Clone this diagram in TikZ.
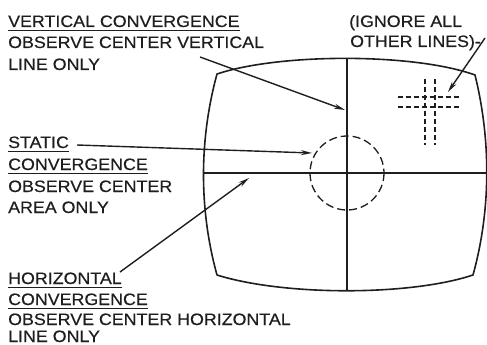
\documentclass[tikz,border=0pt]{standalone}
\usepackage{fontspec}
\setmainfont{Liberation Sans}[FakeStretch=1.08,FakeBold=0.4]
\usetikzlibrary{arrows.meta}
\definecolor{ink}{HTML}{1E1E1E}
\newcommand{\lblfont}{\fontsize{16.5}{20}\selectfont}
\tikzset{
  lbl/.style={font=\lblfont, anchor=base west, inner sep=0pt, text=ink},
  ul/.style={draw=ink, line width=1pt},
  outline/.style={draw=ink, line width=1.6pt, line join=round},
  grid/.style={draw=ink, line width=1.3pt},
  dashcirc/.style={draw=ink, line width=1.3pt, dash pattern=on 8pt off 4pt},
  dashline/.style={draw=ink, line width=1.2pt, dash pattern=on 5pt off 3pt},
  pointer/.style={draw=ink, line width=1.4pt, -{Stealth[length=11pt,width=5pt]}}
}
\begin{document}
\begin{tikzpicture}[x=1pt,y=-1pt]
\useasboundingbox (0,0) rectangle (487,345);
% screen outline
\draw[outline] (217,74) .. controls (280,53) and (414,53) .. (475,75)
  .. controls (491,140) and (491,210) .. (473,275)
  .. controls (410,296) and (284,296) .. (217,275)
  .. controls (199,210) and (199,140) .. cycle;
% center lines
\coordinate (hl) at (203.5,173);
\coordinate (hr) at (486.7,173);
\coordinate (vt) at (347,58.5);
\coordinate (vb) at (347,290.7);
\draw[grid] (hl) -- (hr);
\draw[grid] (vt) -- (vb);
% static circle
\coordinate (cc) at (347,173);
\draw[dashcirc] (cc) circle[radius=37];
% crosshair in upper right
\draw[dashline] (425,79) -- (425,145);
\draw[dashline] (435,79) -- (435,145);
\draw[dashline] (398,97) -- (459,97);
\draw[dashline] (398,107) -- (459,107);
% labels: vertical convergence
\node[lbl] (v1) at (8,27) {VERTICAL CONVERGENCE};
\node[lbl] (v2) at (8,48) {OBSERVE CENTER VERTICAL};
\node[lbl] (v3) at (8,70) {LINE ONLY};
\draw[ul] ([yshift=-3.5pt]v1.south west) -- ([yshift=-3.5pt]v1.south east);
% static
\node[lbl] (s1) at (8,148) {STATIC};
\node[lbl] (s2) at (8,170) {CONVERGENCE};
\node[lbl] (s3) at (8,192) {OBSERVE CENTER};
\node[lbl] (s4) at (8,213) {AREA ONLY};
\draw[ul] ([yshift=-3.5pt]s1.south west) -- ([yshift=-3.5pt]s1.south east);
\draw[ul] ([yshift=-3.5pt]s2.south west) -- ([yshift=-3.5pt]s2.south east);
% horizontal
\node[lbl] (h1) at (8,284) {HORIZONTAL};
\node[lbl] (h2) at (8,305) {CONVERGENCE};
\node[lbl] (h3) at (8,325) {OBSERVE CENTER HORIZONTAL};
\node[lbl] (h4) at (8,342) {LINE ONLY};
\draw[ul] ([yshift=-3.5pt]h1.south west) -- ([yshift=-3.5pt]h1.south east);
\draw[ul] ([yshift=-3.5pt]h2.south west) -- ([yshift=-3.5pt]h2.south east);
% ignore
\node[lbl] (i1) at (349,27) {(IGNORE ALL};
\node[lbl] (i2) at (350,47) {OTHER LINES)-};
% pointers
\coordinate (va) at (200,57);
\coordinate (vtip) at (345,110);
\draw[pointer] (va) -- (vtip);
\coordinate (sa) at (77,145);
\coordinate (stip) at (312,153);
\draw[pointer] (sa) -- (stip);
\coordinate (ha) at (120,272);
\coordinate (htip) at (249,178);
\draw[pointer] (ha) -- (htip);
\coordinate (ia) at (485,38);
\coordinate (itip) at (448,92);
\draw[pointer] (ia) -- (itip);
\end{tikzpicture}
\end{document}
